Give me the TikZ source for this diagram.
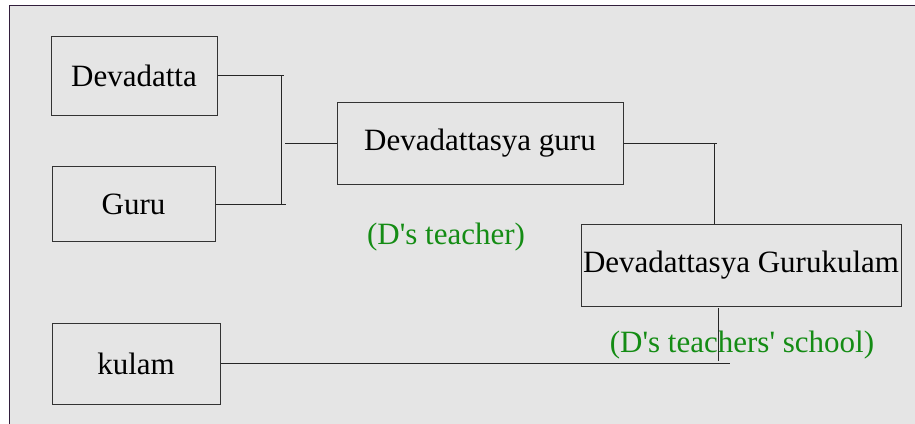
\documentclass[tikz,border=0pt]{standalone}
\usepackage{fontspec}
\setmainfont{Liberation Serif}[Ligatures=TeXOff]
\definecolor{bgray}{RGB}{229,229,229}
\definecolor{lblgreen}{RGB}{20,140,20}
\definecolor{framec}{RGB}{50,30,60}
\begin{document}
\begin{tikzpicture}[x=1pt,y=1pt,
  box/.style={draw=black!80, line width=1pt, inner sep=0pt, font=\fontsize{31}{36}\selectfont},
  lbl/.style={text=lblgreen, inner sep=0pt, anchor=base, font=\fontsize{31}{36}\selectfont},
  conn/.style={draw=black!85, line width=1pt}]
\useasboundingbox (0,0) rectangle (915,-423);
\fill[white] (0,0) rectangle (915,-423);
\fill[bgray] (9,-5.5) rectangle (916,-424);
\draw[framec, line width=1pt] (9,-424) -- (9,-5.5) -- (916,-5.5);

\node[box, minimum width=166pt, minimum height=79pt] (dev) at (134,-75.5) {Devadatta};
\node[box, minimum width=163pt, minimum height=75pt] (guru) at (133.5,-204) {Guru};
\node[box, minimum width=286pt, minimum height=82pt] (dg) at (480,-143) {Devadattasya guru};
\node[box, minimum width=320pt, minimum height=82pt] (dgk) at (741,-265) {Devadattasya Gurukulam};
\node[box, minimum width=168pt, minimum height=81pt] (kulam) at (136,-363.5) {kulam};

\node[lbl] (l1) at (446,-244) {(D's teacher)};
\node[lbl] (l2) at (742,-352) {(D's teachers' school)};

\coordinate (j1) at (284,-75.5);
\coordinate (j2) at (286,-204);
\coordinate (v1) at (281,-75.5);
\coordinate (v2) at (281,-204);
\coordinate (j3) at (285,-143);
\coordinate (j4) at (717,-143);
\coordinate (v3) at (714,-143);
\coordinate (v4a) at (718,-308);
\coordinate (v4b) at (718,-361);
\coordinate (j5) at (730,-363.5);

\draw[conn] (dev.east) -- (j1);
\draw[conn] (guru.east) -- (j2);
\draw[conn] (v1) -- (v2);
\draw[conn] (dg.west) -- (j3);
\draw[conn] (dg.east) -- (j4);
\draw[conn] (v3) -- (v3 |- dgk.north);
\draw[conn] (v4a) -- (v4b);
\draw[conn] (kulam.east) -- (j5);
\end{tikzpicture}
\end{document}
